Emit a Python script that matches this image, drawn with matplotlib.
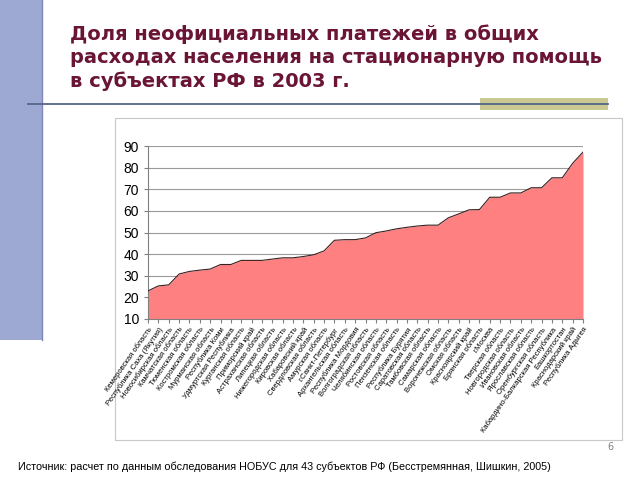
import matplotlib
matplotlib.use("Agg")
import matplotlib.pyplot as plt
from matplotlib.patches import Rectangle

# регионы (43 субъекта), по возрастанию доли
regions = [
    "Кемеровская область", "Республика Саха (Якутия)", "Новосибирская область",
    "Камчатская область", "Тюменская область", "Костромская область",
    "Мурманская область", "Республика Коми", "Удмуртская Республика",
    "Курганская область", "Приморский край", "Астраханская область",
    "Липецкая область", "Нижегородская область", "Кировская область",
    "Хабаровский край", "Свердловская область", "Амурская область",
    "г.Санкт-Петербург", "Архангельская область", "Республика Мордовия",
    "Волгоградская область", "Челябинская область", "Ростовская область",
    "Пензенская область", "Республика Бурятия", "Саратовская область",
    "Тамбовская область", "Самарская область", "Воронежская область",
    "Омская область", "Красноярский край", "Брянская область", "г.Москва",
    "Тверская область", "Новгородская область", "Ивановская область",
    "Ярославская область", "Оренбургская область",
    "Кабардино-Балкарская Республика", "Башкортостан", "Краснодарский край",
    "Республика Адыгея",
]
shares = [
    23.0, 25.3, 25.8, 30.8, 32.0, 32.6, 33.1, 35.2, 35.2, 37.1,
    37.1, 37.1, 37.7, 38.3, 38.3, 38.9, 39.7, 41.5, 46.4, 46.7,
    46.7, 47.5, 49.9, 50.7, 51.7, 52.4, 53.0, 53.4, 53.4, 56.8,
    58.6, 60.5, 60.6, 66.3, 66.3, 68.3, 68.3, 70.7, 70.7, 75.3,
    75.3, 82.0, 87.2,
]
yticks = [10, 20, 30, 40, 50, 60, 70, 80, 90]

title = ("Доля неофициальных платежей в общих\n"
         "расходах населения на стационарную помощь\n"
         "в субъектах РФ в 2003 г.")
source = ("Источник: расчет по данным обследования НОБУС для 43 субъектов РФ "
          "(Бесстремянная, Шишкин, 2005)")

W, H = 640, 480
fig = plt.figure(figsize=(6.4, 4.8), dpi=100)
fig.patch.set_facecolor("white")

def fx(px):
    return px / W

def fy(py):
    return 1 - py / H

# левая полоса слайда
fig.patches.append(Rectangle((0, fy(340)), fx(42), 340 / H, transform=fig.transFigure,
                             facecolor="#9ea9d3", edgecolor="none", zorder=0))
fig.add_artist(plt.Line2D([fx(42), fx(42)], [fy(340), 1], transform=fig.transFigure,
                          color="#7d88b8", lw=1))
# линия под заголовком и плашка
fig.patches.append(Rectangle((fx(480), fy(110)), fx(128), 12 / H, transform=fig.transFigure,
                             facecolor="#c9c991", edgecolor="none", zorder=1))
fig.add_artist(plt.Line2D([fx(28), fx(608)], [fy(104), fy(104)], transform=fig.transFigure,
                          color="#56648c", lw=1.3, zorder=2))

fig.text(fx(70), fy(24), title, ha="left", va="top", fontsize=14, fontweight="bold",
         color="#6a1535", family="DejaVu Sans", linespacing=1.3)

# рамка диаграммы
fig.patches.append(Rectangle((fx(115), fy(440)), fx(507), 322 / H, transform=fig.transFigure,
                             facecolor="white", edgecolor="#c8c8c8", lw=0.8, zorder=1))

ax = fig.add_axes([fx(148), fy(319), fx(435), 173 / H], zorder=3)
x = list(range(len(shares)))
ax.fill_between(x, 10, shares, color="#ff8080", lw=0, zorder=2)
ax.plot(x, shares, color="#3a2020", lw=0.8, zorder=3)
ax.set_xlim(0, len(shares) - 1)
ax.set_ylim(10, 90)
ax.set_yticks(yticks)
ax.yaxis.grid(True, color="#9a9a9a", lw=0.8)
ax.set_axisbelow(True)
ax.set_xticks(x)
ax.set_xticklabels(regions, rotation=55, ha="right", rotation_mode="anchor",
                   fontsize=5.5, family="Liberation Sans")
for lab in ax.get_yticklabels():
    lab.set_family("Liberation Sans")
ax.tick_params(axis="y", labelsize=10, length=3, color="#808080")
ax.tick_params(axis="x", length=3, color="#808080", pad=2)
for s in ["top", "right"]:
    ax.spines[s].set_visible(False)
for s in ["left", "bottom"]:
    ax.spines[s].set_color("#808080")

fig.text(fx(610), fy(447), "6", fontsize=7, color="#808080", ha="center", va="center")
fig.text(fx(18), fy(467), source, fontsize=7.75, color="#000000", ha="left", va="center",
         family="Liberation Sans")

fig.savefig("out.png", dpi=100)
